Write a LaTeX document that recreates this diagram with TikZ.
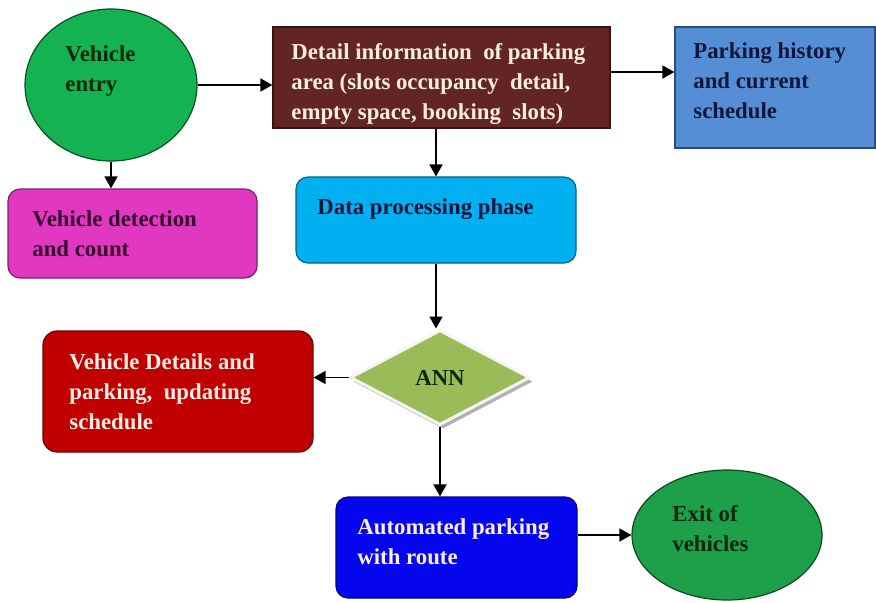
\documentclass[tikz,border=0pt]{standalone}
\usepackage{fontspec}
\setmainfont{Liberation Serif}
\definecolor{myentrygreen}{RGB}{20,178,80}
\definecolor{myexitgreen}{RGB}{30,160,75}
\definecolor{mybrown}{RGB}{99,37,35}
\definecolor{mysteel}{RGB}{85,142,213}
\definecolor{mycyan}{RGB}{0,176,240}
\definecolor{mymagenta}{RGB}{224,56,192}
\definecolor{myolive}{RGB}{155,187,89}
\definecolor{myred}{RGB}{192,0,0}
\definecolor{myblue}{RGB}{5,5,238}
\definecolor{mycream}{RGB}{250,238,226}
\definecolor{mynavy}{RGB}{15,22,62}
\definecolor{mydarkgreen}{RGB}{12,40,12}
\definecolor{myplum}{RGB}{55,10,45}
\usetikzlibrary{shapes.geometric,arrows.meta,positioning,shadows}

\begin{document}
\begin{tikzpicture}[
  x=0.5pt, y=-0.5pt,
  font=\bfseries\fontsize{11.4}{15}\selectfont,
  myrect/.style={
    draw=#1!55!black,
    fill=#1,
    line width=0.6pt,
    inner sep=0pt
    },
  myround/.style={myrect=#1, rounded corners=6pt},
  myoval/.style={
    ellipse,
    draw=#1!45!black,
    fill=#1,
    line width=0.6pt,
    inner sep=0pt
    },
  mytext/.style={anchor=north west, align=left, inner sep=0pt, text=#1},
  myarrow/.style={-{Triangle[length=6pt,width=6.5pt]}, line width=0.8pt}
]
\useasboundingbox (0,0) rectangle (876,602);

% shapes
\node[myoval=myentrygreen, minimum width=86pt, minimum height=76pt] (entry) at (111,85) {};
\node[myrect=mybrown, minimum width=168.5pt, minimum height=50.5pt] (detail) at (441.5,77.5) {};
\node[myrect=mysteel, minimum width=100pt, minimum height=60.5pt] (history) at (775,87.5) {};
\node[myround=mycyan, minimum width=140pt, minimum height=43pt] (data) at (436,220) {};
\node[myround=mymagenta, minimum width=124.5pt, minimum height=44.5pt] (detect) at (132.5,233.5) {};
\node[diamond, fill=myolive, draw=white!92!gray, line width=1.5pt, inner sep=0pt,
  minimum width=90pt, minimum height=47.5pt,
  drop shadow={shadow xshift=1.5pt, shadow yshift=-2pt, fill=black!30, opacity=1},
  text=mydarkgreen] (ann) at (440,377.5) {ANN};
\node[myround=myred, rounded corners=7pt, minimum width=135pt, minimum height=60.5pt] (details) at (178,391.5) {};
\node[myround=myblue, minimum width=120.5pt, minimum height=50.5pt] (auto) at (456.5,547.5) {};
\node[myoval=myexitgreen, minimum width=95pt, minimum height=65pt] (exit) at (727,535) {};

% texts
\node[mytext=mydarkgreen] (entry-txt) at (65,45) {Vehicle\\entry};
\node[mytext=mycream] (detail-txt) at (291,43)
  {Detail information\ \ of parking\\area (slots occupancy\ \ detail,\\empty space, booking\ \ slots)};
\node[mytext=mynavy] (history-txt) at (693,42) {Parking history\\and current\\schedule};
\node[mytext=mynavy] (data-txt) at (317,198) {Data processing phase};
\node[mytext=myplum] (detect-txt) at (32,210) {Vehicle detection\\and count};
\node[mytext=mycream] (details-txt) at (69,353) {Vehicle Details and\\parking,\ \ updating\\schedule};
\node[mytext=mycream] (auto-txt) at (357,518) {Automated parking\\with route};
\node[mytext=mydarkgreen] (exit-txt) at (672,505) {Exit of\\vehicles};

% connectors
\draw[myarrow] (entry.east) -- (entry.east -| detail.west);
\draw[myarrow] ([yshift=2.75pt]detail.east) -- ([yshift=2.75pt]detail.east -| history.west);
\draw[myarrow] (data.north |- detail.south) -- (data.north);
\draw[myarrow] (entry.south) -- (entry.south |- detect.north);
\draw[myarrow] (data.south) -- (data.south |- ann.north);
\draw[myarrow] (ann.west) -- (ann.west -| details.east);
\draw[myarrow] (ann.south) -- (ann.south |- auto.north);
\draw[myarrow] (exit.west -| auto.east) -- (exit.west);
\end{tikzpicture}
\end{document}
